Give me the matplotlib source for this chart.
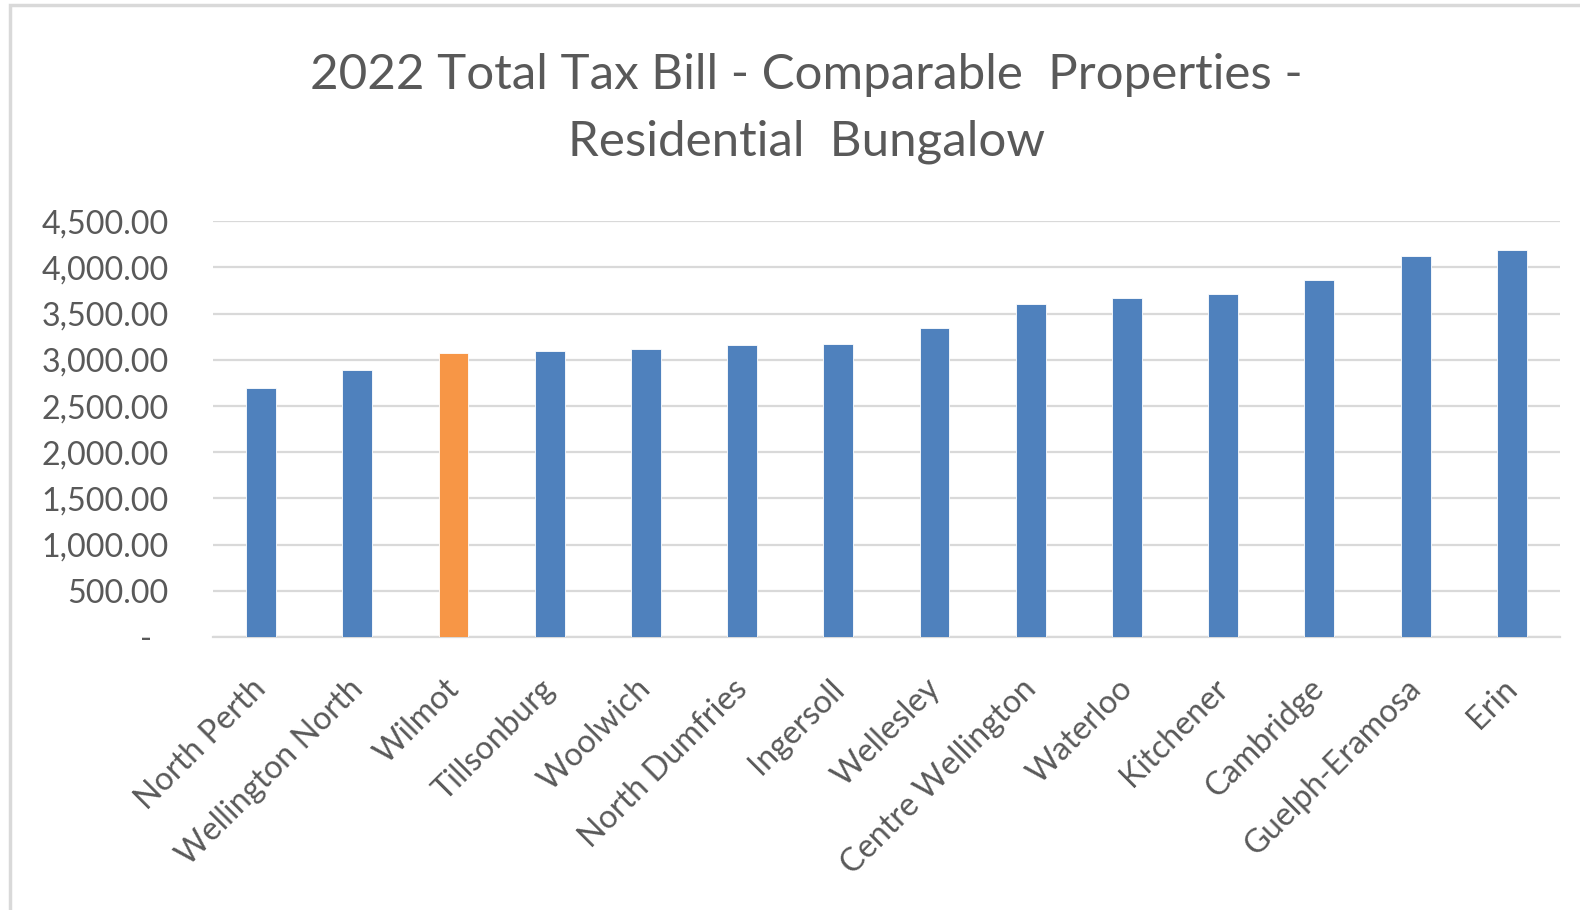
import matplotlib
matplotlib.use("Agg")
import matplotlib.pyplot as plt
from matplotlib.ticker import FuncFormatter
from matplotlib.patches import Rectangle
from matplotlib.transforms import ScaledTranslation

categories = ["North Perth", "Wellington North", "Wilmot", "Tillsonburg", "Woolwich",
              "North Dumfries", "Ingersoll", "Wellesley", "Centre Wellington", "Waterloo",
              "Kitchener", "Cambridge", "Guelph-Eramosa", "Erin"]
values = [2699, 2887, 3071, 3093, 3114, 3158, 3175, 3341, 3608, 3673, 3713, 3861, 4128, 4189]
highlight = "Wilmot"
yticks = [0, 500, 1000, 1500, 2000, 2500, 3000, 3500, 4000, 4500]
title = "2022 Total Tax Bill - Comparable  Properties -\nResidential  Bungalow"

plt.rcParams['font.family'] = ['Lato', 'DejaVu Sans']

fig = plt.figure(figsize=(15.8, 9.1), dpi=100)
ax = fig.add_axes([0.1348, 0.3, 0.8525, 0.4568])

colors = ["#F79646" if c == highlight else "#4F81BD" for c in categories]
x = range(len(categories))
ax.bar(x, values, width=0.31, color=colors, edgecolor="#ffffff", linewidth=0.6, zorder=3)

ax.set_xlim(-0.5, len(categories) - 0.5)
ax.set_ylim(0, 4500)
ax.set_yticks(yticks)
ax.yaxis.set_major_formatter(FuncFormatter(lambda v, p: "-  " if v == 0 else f"{v:,.2f}"))
ax.grid(axis='y', color="#d9d9d9", linewidth=1.6, zorder=0)
ax.set_axisbelow(True)
for s in ["top", "right", "left"]:
    ax.spines[s].set_visible(False)
ax.spines["bottom"].set_color("#d9d9d9")
ax.spines["bottom"].set_linewidth(1.6)
ax.tick_params(axis='both', length=0, colors="#595959", labelsize=23.2)
ax.tick_params(axis='y', pad=32)
ax.set_xticks(list(x))
ax.set_xticklabels(categories, rotation=45, ha='right', rotation_mode='anchor')
ax.tick_params(axis='x', pad=14)
offset = ScaledTranslation(-0.10, -0.17, fig.dpi_scale_trans)
for lbl in ax.get_xticklabels():
    lbl.set_transform(lbl.get_transform() + offset)

fig.text(0.5105, 0.881, title, ha='center', va='center', fontsize=35.5, color="#595959",
         linespacing=1.62)

fig.patches.append(Rectangle((0.0065, -0.01), 1.0, 1.004, transform=fig.transFigure,
                             fill=False, edgecolor="#d9d9d9", linewidth=2.5))

fig.savefig("out.png", dpi=100, facecolor="white")
